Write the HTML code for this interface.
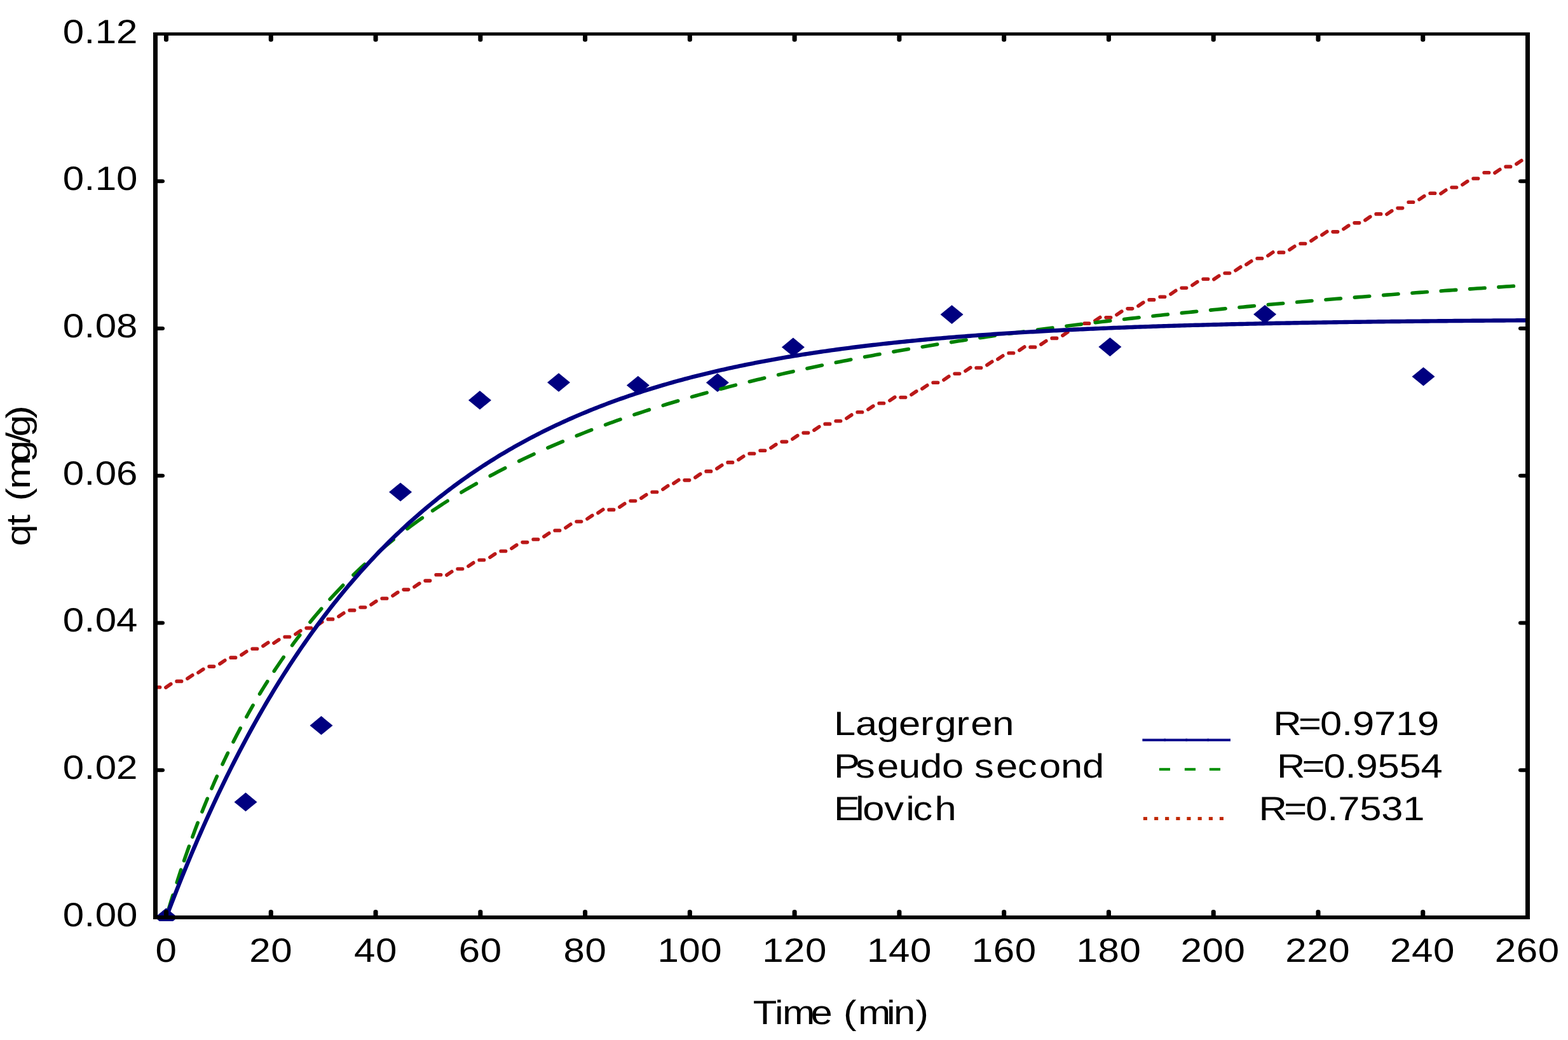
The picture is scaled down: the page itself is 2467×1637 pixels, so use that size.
<!DOCTYPE html>
<html lang="en"><head><meta charset="utf-8"><title>Adsorption kinetics: qt (mg/g) vs Time (min)</title>
<style>html,body{margin:0;padding:0;background:#fff}svg{display:block}</style></head>
<body>
<svg xmlns="http://www.w3.org/2000/svg" width="2467" height="1637" viewBox="0 0 2467 1637" font-family="'Liberation Sans', Arial, Helvetica, sans-serif" font-size="53" text-rendering="geometricPrecision">
<rect width="2467" height="1637" fill="#fff"/>
<defs><clipPath id="pc"><rect x="241" y="51" width="2166" height="1399"/></clipPath></defs>
<g clip-path="url(#pc)">
<g fill="#000080">
<path d="M243.5 1444L261.5 1429.2L279.5 1444L261.5 1458.8Z"/>
<path d="M368.5 1262.4L386.5 1247.6L404.5 1262.4L386.5 1277.2Z"/>
<path d="M487.5 1141.9L505.5 1127.1L523.5 1141.9L505.5 1156.7Z"/>
<path d="M612.05 774.45L630.05 759.65L648.05 774.45L630.05 789.25Z"/>
<path d="M736.95 629.9L754.95 615.1L772.95 629.9L754.95 644.7Z"/>
<path d="M861 601.95L879 587.15L897 601.95L879 616.75Z"/>
<path d="M985.85 606.5L1003.85 591.7L1021.85 606.5L1003.85 621.3Z"/>
<path d="M1110.9 602.25L1128.9 587.45L1146.9 602.25L1128.9 617.05Z"/>
<path d="M1229.9 546.4L1247.9 531.6L1265.9 546.4L1247.9 561.2Z"/>
<path d="M1479.55 495.1L1497.55 480.3L1515.55 495.1L1497.55 509.9Z"/>
<path d="M1728.4 546.1L1746.4 531.3L1764.4 546.1L1746.4 560.9Z"/>
<path d="M1972.1 494.8L1990.1 480L2008.1 494.8L1990.1 509.6Z"/>
<path d="M2221.5 592.8L2239.5 578L2257.5 592.8L2239.5 607.6Z"/>
</g>
<g fill="none" stroke-linecap="round" stroke-linejoin="round">
<path stroke="#ba1818" stroke-width="5.6" d="M244.1 1081.7L251.6 1081.7M260.9 1082.07L268.8 1076.68M278.1 1072.39L285.6 1072.39M294.9 1068.11L302.8 1062.71M311.9 1058.79L319.8 1053.4M329.1 1049.12L336.6 1049.12M345.9 1044.83L353.8 1039.44M363.1 1035.15L370.6 1035.15M379.9 1030.87L387.8 1025.47M397.1 1021.19L404.6 1021.19M413.9 1016.9L421.8 1011.5M430.9 1012.25L438.8 1006.85M448.1 1002.57L455.6 1002.57M464.9 998.28L472.8 992.88M482.1 988.6L489.6 988.6M498.9 984.32L506.8 978.92M516.1 974.63L523.6 974.63M532.9 970.35L540.8 964.96M550.1 960.67L557.6 960.67M567.1 956.02L574.6 956.02M583.9 951.73L591.8 946.34M601.1 942.05L608.6 942.05M617.9 937.76L625.8 932.37M635.1 928.09L642.6 928.09M651.9 923.8L659.8 918.41M669.1 914.12L676.6 914.12M686.1 904.81L693.6 904.81M702.9 905.18L710.8 899.78M720.1 895.5L727.6 895.5M736.9 891.22L744.8 885.82M754.1 881.54L761.6 881.54M770.9 877.25L778.8 871.86M788.1 867.57L795.6 867.57M804.9 863.28L812.8 857.89M822.1 853.61L829.6 853.61M839.1 848.95L846.6 848.95M855.9 844.67L863.8 839.27M873.1 834.99L880.6 834.99M889.9 830.7L897.8 825.3M907.1 821.02L914.6 821.02M923.9 816.74L931.8 811.34M940.9 807.43L948.8 802.03M958.1 802.4L965.6 802.4M974.9 798.12L982.8 792.72M992.1 788.43L999.6 788.43M1008.9 784.15L1016.8 778.75M1026.1 774.47L1033.6 774.47M1042.9 770.19L1050.8 764.79M1059.9 760.88L1067.8 755.48M1077.1 755.85L1084.6 755.85M1093.9 751.57L1101.8 746.17M1111.1 741.88L1118.6 741.88M1127.9 737.6L1135.8 732.21M1145.1 727.92L1152.6 727.92M1161.9 723.64L1169.8 718.24M1179.1 713.96L1186.6 713.96M1196.1 709.3L1203.6 709.3M1212.9 705.01L1220.8 699.62M1230.1 695.34L1237.6 695.34M1246.9 691.05L1254.8 685.66M1264.1 681.37L1271.6 681.37M1280.9 677.09L1288.8 671.69M1298.1 667.4L1305.6 667.4M1315.1 662.75L1322.6 662.75M1331.9 658.47L1339.8 653.07M1349.1 648.79L1356.6 648.79M1365.9 644.5L1373.8 639.11M1383.1 634.82L1390.6 634.82M1399.9 630.53L1407.8 625.14M1417.1 625.51L1424.6 625.51M1433.9 621.23L1441.8 615.83M1450.9 611.92L1458.8 606.52M1468.1 602.24L1475.6 602.24M1484.9 597.95L1492.8 592.55M1502.1 588.27L1509.6 588.27M1518.9 583.99L1526.8 578.59M1536.1 578.96L1543.6 578.96M1552.9 574.68L1560.8 569.28M1569.9 565.37L1577.8 559.97M1587.1 555.69L1594.6 555.69M1603.9 551.4L1611.8 546M1621.1 546.38L1628.6 546.38M1637.9 542.09L1645.8 536.7M1655.1 532.41L1662.6 532.41M1671.9 528.12L1679.8 522.73M1689.1 518.45L1696.6 518.45M1706.1 509.13L1713.6 509.13M1722.9 504.85L1730.8 499.46M1740.1 499.83L1747.6 499.83M1756.9 495.54L1764.8 490.14M1774.1 485.86L1781.6 485.86M1790.9 481.58L1798.8 476.18M1808.1 471.89L1815.6 471.89M1825.1 467.24L1832.6 467.24M1841.9 462.96L1849.8 457.56M1859.1 453.27L1866.6 453.27M1875.9 448.99L1883.8 443.6M1893.1 439.31L1900.6 439.31M1909.9 439.68L1917.8 434.28M1927.1 430L1934.6 430M1943.9 425.72L1951.8 420.32M1960.9 416.4L1968.8 411.01M1978.1 406.73L1985.6 406.73M1994.9 402.44L2002.8 397.04M2012.1 397.41L2019.6 397.41M2028.9 393.13L2036.8 387.74M2046.1 383.45L2053.6 383.45M2062.9 379.16L2070.8 373.77M2079.9 369.86L2087.8 364.46M2097.1 364.83L2104.6 364.83M2113.9 360.54L2121.8 355.15M2131.1 350.87L2138.6 350.87M2147.9 346.58L2155.8 341.18M2165.1 336.9L2172.6 336.9M2181.9 337.27L2189.8 331.88M2199.1 327.59L2206.6 327.59M2216.1 318.28L2223.6 318.28M2232.9 314L2240.8 308.6M2250.1 304.32L2257.6 304.32M2266.9 304.69L2274.8 299.29M2284.1 295L2291.6 295M2300.9 290.72L2308.8 285.33M2318.1 281.04L2325.6 281.04M2335.1 271.73L2342.6 271.73M2351.9 272.1L2359.8 266.71M2369.1 262.42L2376.6 262.42M2385.9 258.13L2393.8 252.74"/>
<path stroke="#008000" stroke-width="5.6" d="M265.8 1429.38L267.35 1424.22L268.89 1419.1L270.44 1414.02L271.98 1409M278.27 1389.02L279.88 1384L281.5 1379.02L283.12 1374.09L284.73 1369.2M289.6 1354.74L291.57 1349L293.54 1343.32L295.51 1337.7L297.48 1332.14M302.82 1317.37L304.91 1311.7L307 1306.1L309.09 1300.56L311.18 1295.08M317.93 1277.75L320.02 1272.52L322.11 1267.34L324.2 1262.21L326.29 1257.14M333.04 1241.09L335.13 1236.24L337.22 1231.43L339.31 1226.68L341.4 1221.97M350.04 1202.98L352.13 1198.51L354.22 1194.08L356.31 1189.69L358.4 1185.35M367.04 1167.82L369.84 1162.29L372.64 1156.83L375.44 1151.44L378.23 1146.12M387.82 1128.36L390.38 1123.75L392.94 1119.18L395.51 1114.66L398.07 1110.2M408.6 1092.32L411.63 1087.32L414.67 1082.38L417.7 1077.5L420.73 1072.68M431.27 1056.39L435.01 1050.77L438.75 1045.23L442.49 1039.77L446.23 1034.39M459.6 1015.79L462.63 1011.69L465.67 1007.65L468.7 1003.65L471.73 999.69M487.93 979.28L492.38 973.88L496.83 968.57L501.28 963.33L505.73 958.18M519.1 943.17L524.26 937.56L529.42 932.04L534.58 926.62L539.73 921.29M555.93 905.11L560.38 900.81L564.83 896.57L569.28 892.39L573.73 888.27M595.6 868.81L601.47 863.81L607.33 858.89L613.2 854.05L619.07 849.3M640.93 832.27L646.8 827.88L652.67 823.56L658.53 819.31L664.4 815.13M680.6 803.91L686.47 799.97L692.33 796.08L698.2 792.26L704.07 788.5M725.93 774.95L731.8 771.44L737.67 767.98L743.53 764.57L749.4 761.21M771.27 749.09L777.13 745.95L783 742.85L788.87 739.79L794.73 736.77M816.6 725.88L822.47 723.05L828.33 720.25L834.2 717.49L840.07 714.77M861.93 704.92L867.8 702.35L873.67 699.82L879.53 697.31L885.4 694.84M907.27 685.89L913.13 683.56L919 681.25L924.87 678.97L930.73 676.72M952.6 668.55L958.47 666.42L964.33 664.31L970.2 662.22L976.07 660.16M997.93 652.68L1003.8 650.72L1009.67 648.79L1015.53 646.87L1021.4 644.98M1043.27 638.1L1049.13 636.3L1055 634.51L1060.87 632.75L1066.73 631M1088.6 624.65L1094.47 622.99L1100.33 621.34L1106.2 619.71L1112.07 618.1M1133.93 612.22L1139.8 610.68L1145.67 609.15L1151.53 607.64L1157.4 606.14M1179.27 600.69L1185.13 599.25L1191 597.84L1196.87 596.43L1202.73 595.04M1224.6 589.96L1230.47 588.63L1236.33 587.3L1242.2 585.99L1248.07 584.7M1269.93 579.96L1275.8 578.71L1281.67 577.48L1287.53 576.25L1293.4 575.04M1315.27 570.61L1321.13 569.44L1327 568.29L1332.87 567.14L1338.73 566M1360.6 561.85L1366.47 560.76L1372.33 559.67L1378.2 558.6L1384.07 557.53M1405.93 553.63L1411.8 552.6L1417.67 551.58L1423.53 550.57L1429.4 549.57M1451.27 545.9L1457.13 544.93L1463 543.97L1468.87 543.02L1474.73 542.08M1496.6 538.61L1502.47 537.7L1508.33 536.8L1514.2 535.9L1520.07 535.01M1541.93 531.74L1547.8 530.88L1553.67 530.02L1559.53 529.17L1565.4 528.33M1587.27 525.24L1593.13 524.42L1599 523.61L1604.87 522.81L1610.73 522.01M1632.6 519.09L1638.47 518.31L1644.33 517.55L1650.2 516.78L1656.07 516.03M1677.93 513.25L1683.8 512.52L1689.67 511.79L1695.53 511.07L1701.4 510.35M1723.27 507.71L1729.13 507.01L1735 506.32L1740.87 505.63L1746.73 504.95M1768.6 502.44L1774.47 501.78L1780.33 501.12L1786.2 500.47L1792.07 499.81M1813.93 497.43L1819.8 496.8L1825.67 496.17L1831.53 495.54L1837.4 494.92M1859.27 492.65L1865.13 492.04L1871 491.45L1876.87 490.85L1882.73 490.26M1904.6 488.09L1910.47 487.51L1916.33 486.94L1922.2 486.37L1928.07 485.81M1949.93 483.73L1955.8 483.18L1961.67 482.64L1967.53 482.09L1973.4 481.55M1995.27 479.57L2001.13 479.04L2007 478.52L2012.87 478L2018.73 477.48M2040.6 475.58L2046.47 475.08L2052.33 474.58L2058.2 474.08L2064.07 473.58M2085.93 471.76L2091.8 471.28L2097.67 470.8L2103.53 470.32L2109.4 469.85M2131.27 468.1L2137.13 467.64L2143 467.18L2148.87 466.72L2154.73 466.26M2176.6 464.59L2182.47 464.14L2188.33 463.7L2194.2 463.26L2200.07 462.82M2221.93 461.21L2227.8 460.78L2233.67 460.36L2239.53 459.94L2245.4 459.52M2267.27 457.97L2273.13 457.56L2279 457.15L2284.87 456.74L2290.73 456.34M2312.6 454.85L2318.47 454.45L2324.33 454.06L2330.2 453.67L2336.07 453.28M2357.93 451.84L2363.8 451.46L2369.67 451.08L2375.53 450.7L2381.4 450.33"/>
<path stroke="#000080" stroke-width="6.4" stroke-linecap="butt" d="M261.5 1444L265.62 1433.14L269.74 1422.4L273.86 1411.78L277.98 1401.29L282.1 1390.91L286.22 1380.66L290.33 1370.53L294.45 1360.51L298.57 1350.61L302.69 1340.82L306.81 1331.15L310.93 1321.58L315.05 1312.13L319.17 1302.79L323.29 1293.55L327.41 1284.42L331.53 1275.4L335.65 1266.48L339.77 1257.66L343.88 1248.94L348 1240.33L352.12 1231.81L356.24 1223.39L360.36 1215.07L364.48 1206.85L368.6 1198.72L372.72 1190.68L376.84 1182.74L380.96 1174.89L385.08 1167.13L389.2 1159.45L393.32 1151.87L397.44 1144.38L401.55 1136.97L405.67 1129.64L409.79 1122.4L413.91 1115.25L418.03 1108.17L422.15 1101.18L426.27 1094.27L430.39 1087.44L434.51 1080.69L438.63 1074.01L442.75 1067.42L446.87 1060.89L450.99 1054.45L455.1 1048.07L459.22 1041.78L463.34 1035.55L467.46 1029.4L471.58 1023.31L475.7 1017.3L479.82 1011.36L483.94 1005.48L488.06 999.67L492.18 993.93L496.3 988.26L500.42 982.65L504.54 977.11L508.65 971.63L512.77 966.21L516.89 960.85L521.01 955.56L525.13 950.33L529.25 945.16L533.37 940.05L537.49 934.99L541.61 930L545.73 925.06L549.85 920.18L553.97 915.36L558.09 910.59L562.21 905.88L566.32 901.22L570.44 896.62L574.56 892.06L578.68 887.56L582.8 883.12L586.92 878.72L591.04 874.38L595.16 870.08L599.28 865.83L603.4 861.64L607.52 857.49L611.64 853.39L615.76 849.33L619.87 845.33L623.99 841.37L628.11 837.45L632.23 833.58L636.35 829.76L640.47 825.98L644.59 822.24L648.71 818.55L652.83 814.9L656.95 811.29L661.07 807.72L665.19 804.19L669.31 800.71L673.42 797.26L677.54 793.85L681.66 790.49L685.78 787.16L689.9 783.87L694.02 780.62L698.14 777.4L702.26 774.23L706.38 771.09L710.5 767.98L714.62 764.91L718.74 761.88L722.86 758.88L726.98 755.92L731.09 752.99L735.21 750.1L739.33 747.23L743.45 744.41L747.57 741.61L751.69 738.84L755.81 736.11L759.93 733.41L764.05 730.74L768.17 728.1L772.29 725.49L776.41 722.92L780.53 720.37L784.64 717.85L788.76 715.36L792.88 712.9L797 710.46L801.12 708.06L805.24 705.68L809.36 703.33L813.48 701.01L817.6 698.71L821.72 696.44L825.84 694.2L829.96 691.98L834.08 689.79L838.2 687.63L842.31 685.48L846.43 683.37L850.55 681.27L854.67 679.21L858.79 677.16L862.91 675.14L867.03 673.14L871.15 671.17L875.27 669.22L879.39 667.29L883.51 665.38L887.63 663.5L891.75 661.63L895.86 659.79L899.98 657.97L904.1 656.17L908.22 654.39L912.34 652.63L916.46 650.9L920.58 649.18L924.7 647.48L928.82 645.8L932.94 644.14L937.06 642.5L941.18 640.88L945.3 639.28L949.41 637.69L953.53 636.13L957.65 634.58L961.77 633.05L965.89 631.54L970.01 630.04L974.13 628.57L978.25 627.11L982.37 625.66L986.49 624.24L990.61 622.83L994.73 621.43L998.85 620.05L1002.97 618.69L1007.08 617.34L1011.2 616.01L1015.32 614.7L1019.44 613.4L1023.56 612.11L1027.68 610.84L1031.8 609.58L1035.92 608.34L1040.04 607.12L1044.16 605.9L1048.28 604.7L1052.4 603.52L1056.52 602.35L1060.63 601.19L1064.75 600.04L1068.87 598.91L1072.99 597.79L1077.11 596.69L1081.23 595.6L1085.35 594.52L1089.47 593.45L1093.59 592.39L1097.71 591.35L1101.83 590.32L1105.95 589.3L1110.07 588.29L1114.18 587.3L1118.3 586.31L1122.42 585.34L1126.54 584.38L1130.66 583.43L1134.78 582.49L1138.9 581.56L1143.02 580.64L1147.14 579.73L1151.26 578.83L1155.38 577.95L1159.5 577.07L1163.62 576.2L1167.74 575.35L1171.85 574.5L1175.97 573.66L1180.09 572.84L1184.21 572.02L1188.33 571.21L1192.45 570.41L1196.57 569.62L1200.69 568.84L1204.81 568.07L1208.93 567.31L1213.05 566.55L1217.17 565.81L1221.29 565.07L1225.4 564.34L1229.52 563.62L1233.64 562.91L1237.76 562.21L1241.88 561.51L1246 560.83L1250.12 560.15L1254.24 559.48L1258.36 558.81L1262.48 558.16L1266.6 557.51L1270.72 556.87L1274.84 556.23L1278.95 555.61L1283.07 554.99L1287.19 554.38L1291.31 553.77L1295.43 553.17L1299.55 552.58L1303.67 552L1307.79 551.42L1311.91 550.85L1316.03 550.29L1320.15 549.73L1324.27 549.18L1328.39 548.63L1332.51 548.09L1336.62 547.56L1340.74 547.04L1344.86 546.52L1348.98 546L1353.1 545.49L1357.22 544.99L1361.34 544.49L1365.46 544L1369.58 543.52L1373.7 543.04L1377.82 542.56L1381.94 542.1L1386.06 541.63L1390.17 541.18L1394.29 540.72L1398.41 540.28L1402.53 539.83L1406.65 539.4L1410.77 538.96L1414.89 538.54L1419.01 538.12L1423.13 537.7L1427.25 537.29L1431.37 536.88L1435.49 536.47L1439.61 536.08L1443.72 535.68L1447.84 535.29L1451.96 534.91L1456.08 534.53L1460.2 534.15L1464.32 533.78L1468.44 533.41L1472.56 533.05L1476.68 532.69L1480.8 532.34L1484.92 531.99L1489.04 531.64L1493.16 531.3L1497.28 530.96L1501.39 530.62L1505.51 530.29L1509.63 529.97L1513.75 529.64L1517.87 529.32L1521.99 529.01L1526.11 528.7L1530.23 528.39L1534.35 528.08L1538.47 527.78L1542.59 527.48L1546.71 527.19L1550.83 526.9L1554.94 526.61L1559.06 526.32L1563.18 526.04L1567.3 525.76L1571.42 525.49L1575.54 525.22L1579.66 524.95L1583.78 524.68L1587.9 524.42L1592.02 524.16L1596.14 523.91L1600.26 523.65L1604.38 523.4L1608.49 523.15L1612.61 522.91L1616.73 522.67L1620.85 522.43L1624.97 522.19L1629.09 521.96L1633.21 521.73L1637.33 521.5L1641.45 521.27L1645.57 521.05L1649.69 520.83L1653.81 520.61L1657.93 520.4L1662.05 520.18L1666.16 519.97L1670.28 519.77L1674.4 519.56L1678.52 519.36L1682.64 519.16L1686.76 518.96L1690.88 518.76L1695 518.57L1699.12 518.38L1703.24 518.19L1707.36 518L1711.48 517.81L1715.6 517.63L1719.71 517.45L1723.83 517.27L1727.95 517.09L1732.07 516.92L1736.19 516.75L1740.31 516.58L1744.43 516.41L1748.55 516.24L1752.67 516.07L1756.79 515.91L1760.91 515.75L1765.03 515.59L1769.15 515.43L1773.26 515.28L1777.38 515.12L1781.5 514.97L1785.62 514.82L1789.74 514.67L1793.86 514.53L1797.98 514.38L1802.1 514.24L1806.22 514.1L1810.34 513.96L1814.46 513.82L1818.58 513.68L1822.7 513.54L1826.82 513.41L1830.93 513.28L1835.05 513.15L1839.17 513.02L1843.29 512.89L1847.41 512.76L1851.53 512.64L1855.65 512.52L1859.77 512.39L1863.89 512.27L1868.01 512.15L1872.13 512.04L1876.25 511.92L1880.37 511.8L1884.48 511.69L1888.6 511.58L1892.72 511.47L1896.84 511.36L1900.96 511.25L1905.08 511.14L1909.2 511.03L1913.32 510.93L1917.44 510.83L1921.56 510.72L1925.68 510.62L1929.8 510.52L1933.92 510.42L1938.03 510.32L1942.15 510.23L1946.27 510.13L1950.39 510.04L1954.51 509.94L1958.63 509.85L1962.75 509.76L1966.87 509.67L1970.99 509.58L1975.11 509.49L1979.23 509.41L1983.35 509.32L1987.47 509.23L1991.59 509.15L1995.7 509.07L1999.82 508.99L2003.94 508.9L2008.06 508.82L2012.18 508.74L2016.3 508.67L2020.42 508.59L2024.54 508.51L2028.66 508.44L2032.78 508.36L2036.9 508.29L2041.02 508.21L2045.14 508.14L2049.25 508.07L2053.37 508L2057.49 507.93L2061.61 507.86L2065.73 507.79L2069.85 507.72L2073.97 507.66L2078.09 507.59L2082.21 507.53L2086.33 507.46L2090.45 507.4L2094.57 507.33L2098.69 507.27L2102.8 507.21L2106.92 507.15L2111.04 507.09L2115.16 507.03L2119.28 506.97L2123.4 506.91L2127.52 506.86L2131.64 506.8L2135.76 506.74L2139.88 506.69L2144 506.63L2148.12 506.58L2152.24 506.53L2156.36 506.47L2160.47 506.42L2164.59 506.37L2168.71 506.32L2172.83 506.27L2176.95 506.22L2181.07 506.17L2185.19 506.12L2189.31 506.07L2193.43 506.02L2197.55 505.98L2201.67 505.93L2205.79 505.88L2209.91 505.84L2214.02 505.79L2218.14 505.75L2222.26 505.7L2226.38 505.66L2230.5 505.62L2234.62 505.58L2238.74 505.53L2242.86 505.49L2246.98 505.45L2251.1 505.41L2255.22 505.37L2259.34 505.33L2263.46 505.29L2267.57 505.25L2271.69 505.21L2275.81 505.18L2279.93 505.14L2284.05 505.1L2288.17 505.07L2292.29 505.03L2296.41 504.99L2300.53 504.96L2304.65 504.92L2308.77 504.89L2312.89 504.86L2317.01 504.82L2321.12 504.79L2325.24 504.76L2329.36 504.72L2333.48 504.69L2337.6 504.66L2341.72 504.63L2345.84 504.6L2349.96 504.57L2354.08 504.54L2358.2 504.51L2362.32 504.48L2366.44 504.45L2370.56 504.42L2374.68 504.39L2378.79 504.36L2382.91 504.33L2387.03 504.31L2391.15 504.28L2395.27 504.25L2399.39 504.22L2403.51 504.2"/>
</g>
</g>
<g fill="#000">
<rect x="241" y="51" width="7" height="1396"/>
<rect x="2400" y="51" width="7" height="1396"/>
<rect x="241" y="51" width="2166" height="5"/>
<rect x="241" y="1441" width="2166" height="6"/>
</g>
<g transform="scale(1.18,1)" stroke="#000" stroke-width="6" stroke-linecap="round" fill="none">
<path d="M221.61 1443V1435M221.61 54.5V62.8M361.25 1443V1435M361.25 54.5V62.8M500.88 1443V1435M500.88 54.5V62.8M640.52 1443V1435M640.52 54.5V62.8M780.15 1443V1435M780.15 54.5V62.8M919.79 1443V1435M919.79 54.5V62.8M1059.42 1443V1435M1059.42 54.5V62.8M1199.06 1443V1435M1199.06 54.5V62.8M1338.69 1443V1435M1338.69 54.5V62.8M1478.33 1443V1435M1478.33 54.5V62.8M1617.97 1443V1435M1617.97 54.5V62.8M1757.6 1443V1435M1757.6 54.5V62.8M1897.24 1443V1435M1897.24 54.5V62.8M207.63 1212.25H216.53M2036.44 1212.25H2027.54M207.63 980.5H216.53M2036.44 980.5H2027.54M207.63 748.75H216.53M2036.44 748.75H2027.54M207.63 517H216.53M2036.44 517H2027.54M207.63 285.25H216.53M2036.44 285.25H2027.54"/>
</g>
<text transform="translate(98.81,1457.9) scale(1.1324,1)" x="0 29.84 45.04 74.27" y="0" fill="#000" xml:space="preserve">0.00</text>
<text transform="translate(98.81,1226.17) scale(1.1324,1)" x="0 29.84 45.04 74.27" y="0" fill="#000" xml:space="preserve">0.02</text>
<text transform="translate(98.81,994.44) scale(1.1324,1)" x="0 29.84 45.04 74.26" y="0" fill="#000" xml:space="preserve">0.04</text>
<text transform="translate(98.81,762.71) scale(1.1324,1)" x="0 29.84 45.04 74.27" y="0" fill="#000" xml:space="preserve">0.06</text>
<text transform="translate(98.81,530.98) scale(1.1324,1)" x="0 29.84 45.04 74.27" y="0" fill="#000" xml:space="preserve">0.08</text>
<text transform="translate(98.81,299.25) scale(1.1324,1)" x="0 29.84 45.06 74.27" y="0" fill="#000" xml:space="preserve">0.10</text>
<text transform="translate(98.81,67.52) scale(1.1324,1)" x="0 29.84 45.06 74.27" y="0" fill="#000" xml:space="preserve">0.12</text>
<text transform="translate(244.51,1514) scale(1.1324,1)" x="0" y="0" fill="#000" xml:space="preserve">0</text>
<text transform="translate(392.28,1514) scale(1.1324,1)" x="0 30.03" y="0" fill="#000" xml:space="preserve">20</text>
<text transform="translate(557.05,1514) scale(1.1324,1)" x="0 30.03" y="0" fill="#000" xml:space="preserve">40</text>
<text transform="translate(721.83,1514) scale(1.1324,1)" x="0 30.02" y="0" fill="#000" xml:space="preserve">60</text>
<text transform="translate(886.59,1514) scale(1.1324,1)" x="0 30.03" y="0" fill="#000" xml:space="preserve">80</text>
<text transform="translate(1034.38,1514) scale(1.1324,1)" x="0 30.01 60.03" y="0" fill="#000" xml:space="preserve">100</text>
<text transform="translate(1199.15,1514) scale(1.1324,1)" x="0 30.01 60.03" y="0" fill="#000" xml:space="preserve">120</text>
<text transform="translate(1363.92,1514) scale(1.1324,1)" x="0 30 60.03" y="0" fill="#000" xml:space="preserve">140</text>
<text transform="translate(1528.69,1514) scale(1.1324,1)" x="0 30.01 60.03" y="0" fill="#000" xml:space="preserve">160</text>
<text transform="translate(1693.46,1514) scale(1.1324,1)" x="0 30.01 60.03" y="0" fill="#000" xml:space="preserve">180</text>
<text transform="translate(1857.41,1514) scale(1.1324,1)" x="0 30.03 60.05" y="0" fill="#000" xml:space="preserve">200</text>
<text transform="translate(2022.18,1514) scale(1.1324,1)" x="0 30.03 60.05" y="0" fill="#000" xml:space="preserve">220</text>
<text transform="translate(2186.95,1514) scale(1.1324,1)" x="0 30.02 60.05" y="0" fill="#000" xml:space="preserve">240</text>
<text transform="translate(2351.72,1514) scale(1.1324,1)" x="0 30.03 60.05" y="0" fill="#000" xml:space="preserve">260</text>
<text transform="translate(1184.65,1611.9) scale(1.1604,1)" x="0 29.52 39.86 78.21 107.51 122.72 142.41 181.19 190.76 220.49" y="0" fill="#000" xml:space="preserve">Time (min)</text>
<text transform="translate(47,859.5) rotate(-90) scale(1.1604,1)" x="0 28.09 42.66 61.1 77.26 113.93 139.52 148.49 173.05" y="0" fill="#000" xml:space="preserve">qt (mg/g)</text>
<text transform="translate(1311.9,1157) scale(1.1604,1)" x="0 29.3 58.6 87.9 117.2 136.74 166.04 185.57 214.87" y="0" fill="#000" xml:space="preserve">Lagergren</text>
<text transform="translate(1798.75,1156.15) scale(1.1604,1)" x="0 29.3 58.6 87.9" y="0" fill="#000088" stroke="#000088" stroke-width="0.65" xml:space="preserve">____</text>
<text transform="translate(2003.23,1157) scale(1.1604,1)" x="0 34.18 63.49 92.79 107.44 136.74 166.04 195.34" y="0" fill="#000" xml:space="preserve">R=0.9719</text>
<text transform="translate(1311.9,1223.6) scale(1.1604,1)" x="0 29.3 58.6 87.9 117.2 146.5 175.8 190.46 219.76 249.06 278.36 307.66 336.96" y="0" fill="#000" xml:space="preserve">Pseudo second</text>
<text transform="translate(1820.84,1224.7) scale(1.3228,1)" x="0 17.16 30.2 47.36 59.68" y="0" fill="#009000" xml:space="preserve">- - -</text>
<text transform="translate(2008.9,1223.6) scale(1.1604,1)" x="0 34.18 63.49 92.79 107.44 136.74 166.04 195.34" y="0" fill="#000" xml:space="preserve">R=0.9554</text>
<text transform="translate(1311.9,1291) scale(1.1604,1)" x="0 29.3 39.07 68.37 97.67 107.44 136.74" y="0" fill="#000" xml:space="preserve">Elovich</text>
<text transform="translate(1793.05,1291) scale(1.21,0.8995)" x="0 14.17 28.33 42.5 56.66 70.83 84.99 99.16" y="0" fill="#c02800" xml:space="preserve">........</text>
<text transform="translate(1980.57,1291) scale(1.1604,1)" x="0 34.18 63.49 92.79 107.44 136.74 166.04 195.34" y="0" fill="#000" xml:space="preserve">R=0.7531</text>
</svg>
</body></html>
